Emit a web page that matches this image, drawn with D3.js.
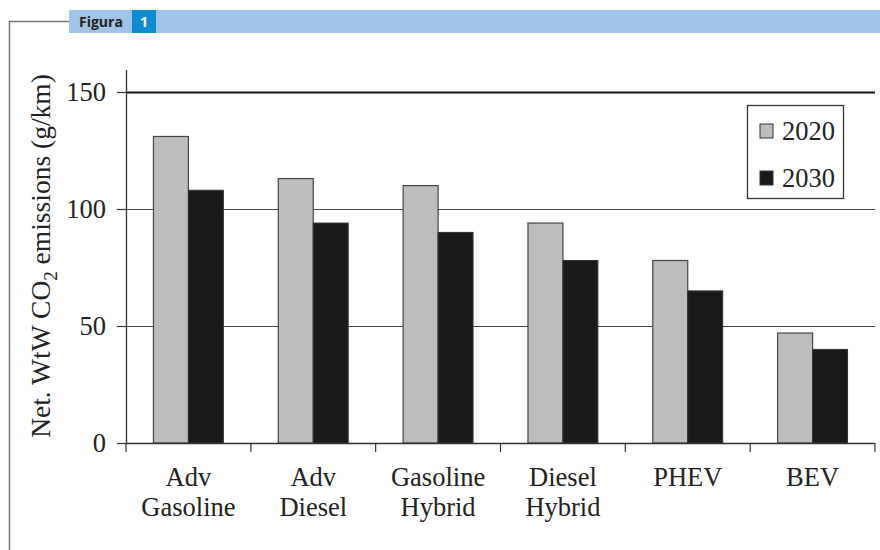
<!DOCTYPE html>
<html><head><meta charset="utf-8">
<script src="https://cdn.jsdelivr.net/npm/d3@7"></script>
<style>body{margin:0;background:#fff}svg{display:block}</style>
</head><body>
<script>
const categories = [["Adv","Gasoline"],["Adv","Diesel"],["Gasoline","Hybrid"],["Diesel","Hybrid"],["PHEV"],["BEV"]];
const seriesNames = ["2020","2030"];
const values2020 = [131, 113, 110, 94, 78, 47];
const values2030 = [108, 94, 90, 78, 65, 40];
const yTicks = [0, 50, 100, 150];

const W = 880, H = 550;
const svg = d3.select("body").append("svg").attr("width", W).attr("height", H);

// frame & header
svg.append("path").attr("d","M9.5,550 L9.5,21.5 L69,21.5").attr("fill","none").attr("stroke","#777").attr("stroke-width",1.5);
svg.append("rect").attr("x",69).attr("y",10).attr("width",W-69).attr("height",23).attr("fill","#a0c4e8");
svg.append("rect").attr("x",132).attr("y",10).attr("width",24).attr("height",23).attr("fill","#0a8bd2");
svg.append("text").attr("x",79).attr("y",26.5).attr("font-family","'Open Sans', 'DejaVu Sans', sans-serif").attr("font-weight",700).attr("font-size",14).attr("fill","#222").text("Figura");
svg.append("text").attr("x",144).attr("y",27).attr("text-anchor","middle").attr("font-family","'Open Sans', 'DejaVu Sans', sans-serif").attr("font-weight",700).attr("font-size",15).attr("fill","#fff").text("1");

const plotL = 126, plotR = 875, plotB = 443, plotT = 70;
const x = d3.scaleBand().domain(d3.range(categories.length)).range([plotL, plotR]).paddingInner(0).paddingOuter(0);
const y = d3.scaleLinear().domain([0, 159.4]).range([plotB, plotT]);
const inner = 0.22;
const bw = x.bandwidth() * (1 - 2*inner) / 2;

const serif = "'Liberation Serif','Times New Roman',serif";
const fs = 26.5;

// gridlines
svg.append("g").selectAll("line").data(yTicks.filter(d=>d>0)).join("line")
  .attr("x1", plotL).attr("x2", plotR).attr("y1", d=>Math.round(y(d))+0.5).attr("y2", d=>Math.round(y(d))+0.5)
  .attr("stroke", d=> d===150 ? "#111" : "#444").attr("stroke-width", d=> d===150 ? 2.2 : 1.2);

// bars
const g = svg.append("g");
categories.forEach((c,i)=>{
  const x0 = x(i) + x.bandwidth()*inner;
  g.append("rect").attr("x", x0).attr("y", y(values2020[i])).attr("width", bw).attr("height", plotB - y(values2020[i]))
   .attr("fill","#bdbdbd").attr("stroke","#444").attr("stroke-width",1.2);
  g.append("rect").attr("x", x0+bw).attr("y", y(values2030[i])).attr("width", bw).attr("height", plotB - y(values2030[i]))
   .attr("fill","#1a1a1a").attr("stroke","#333").attr("stroke-width",1);
});

// y axis
const ya = svg.append("g").attr("transform",`translate(${plotL},0)`)
  .call(d3.axisLeft(y).tickValues(yTicks).tickSize(9).tickPadding(11).tickFormat(d3.format("d")));
ya.select(".domain").remove();
ya.selectAll(".tick line").attr("stroke","#333").attr("stroke-width",1.2);
ya.selectAll(".tick text").attr("font-family",serif).attr("font-size",fs).attr("fill","#222").attr("dy","0.33em");
svg.append("line").attr("x1",plotL+0.5).attr("x2",plotL+0.5).attr("y1",plotT).attr("y2",plotB).attr("stroke","#333").attr("stroke-width",1.3);

// x axis
const xa = svg.append("g").attr("transform",`translate(0,${plotB})`);
xa.append("line").attr("x1",plotL).attr("x2",plotR).attr("y1",0.5).attr("y2",0.5).attr("stroke","#333").attr("stroke-width",1.3);
const tickXs = d3.range(categories.length+1).map(i=> i<categories.length ? x(i) : plotR);
xa.selectAll("line.tk").data(tickXs).join("line").attr("class","tk")
  .attr("x1",d=>d).attr("x2",d=>d).attr("y1",0).attr("y2",9).attr("stroke","#333").attr("stroke-width",1.2);
categories.forEach((c,i)=>{
  const t = xa.append("text").attr("x", x(i)+x.bandwidth()/2).attr("y", 43).attr("text-anchor","middle")
    .attr("font-family",serif).attr("font-size",fs).attr("fill","#222");
  c.forEach((line,k)=> t.append("tspan").attr("x", x(i)+x.bandwidth()/2).attr("dy", k===0?0:30).text(line));
});

// y label
const yl = svg.append("text").attr("transform","translate(50,256) rotate(-90)").attr("text-anchor","middle")
  .attr("font-family",serif).attr("font-size",27.5).attr("fill","#222");
yl.append("tspan").text("Net. WtW CO");
yl.append("tspan").attr("font-size",19).attr("dy",7).text("2");
yl.append("tspan").attr("dy",-7).text(" emissions (g/km)");

// legend
const lg = svg.append("g");
lg.append("rect").attr("x",747.5).attr("y",105.5).attr("width",96).attr("height",93).attr("fill","#fff").attr("stroke","#333").attr("stroke-width",1.3);
const legendColors = ["#bdbdbd","#1a1a1a"];
seriesNames.forEach((s,i)=>{
  const yy = 131 + i*47;
  lg.append("rect").attr("x",760).attr("y",yy-7).attr("width",13).attr("height",14).attr("fill",legendColors[i]).attr("stroke","#333").attr("stroke-width",1);
  lg.append("text").attr("x",782).attr("y",yy+9).attr("font-family",serif).attr("font-size",fs).attr("fill","#222").text(s);
});
</script>
</body></html>
